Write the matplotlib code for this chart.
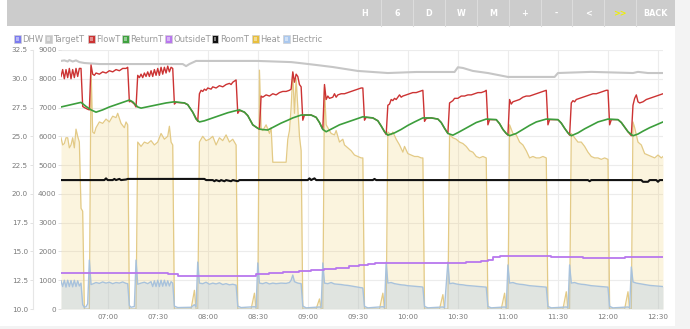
import matplotlib
matplotlib.use("Agg")
import matplotlib.pyplot as plt
import matplotlib.dates as mdates
import numpy as np
import pandas as pd
from matplotlib.patches import Rectangle
from matplotlib.lines import Line2D

plt.rcParams['font.family'] = ['DejaVu Sans']

DAY = "2024-01-01 "

# ---------------- data ----------------
legend_labels = ["DHW", "TargetT", "FlowT", "ReturnT", "OutsideT", "RoomT", "Heat", "Electric"]
legend_colors = ["#7b7bf0", "#c8c8c8", "#cc3333", "#3fa23f", "#b877ee", "#111111", "#e8bf3c", "#aac8ee"]

buttons = ["H", "6", "D", "W", "M", "+", "-", "<", ">>", "BACK"]

temp_ticks = [10.0, 12.5, 15.0, 17.5, 20.0, 22.5, 25.0, 27.5, 30.0, 32.5]
power_ticks = [0, 1000, 2000, 3000, 4000, 5000, 6000, 7000, 8000, 9000]

heat_time = [
    "06:32", "06:33", "06:34", "06:35", "06:36", "06:37", "06:38", "06:39", "06:40", "06:41", "06:42", "06:43", "06:44", "06:45", "06:46",
    "06:49", "06:50", "06:51", "06:52", "06:53", "06:55", "06:57", "06:59", "07:01", "07:03", "07:05", "07:06", "07:08", "07:10", "07:11", "07:12", "07:13",
    "07:17", "07:18", "07:20", "07:22", "07:24", "07:26", "07:28", "07:30", "07:32", "07:34", "07:36", "07:37", "07:38", "07:39", "07:40",
    "07:50", "07:52", "07:53", "07:54", "07:55", "07:57", "07:59", "08:01", "08:03", "08:05", "08:07", "08:09", "08:11", "08:13", "08:15", "08:17", "08:18",
    "08:26", "08:28", "08:29", "08:30", "08:31", "08:32", "08:33", "08:35", "08:37", "08:38", "08:39", "08:41", "08:44", "08:47", "08:48", "08:49", "08:50",
    "08:51", "08:52", "08:53", "08:54", "08:55", "08:56", "08:57",
    "09:05", "09:07", "09:08", "09:09", "09:10", "09:11", "09:12", "09:14", "09:16", "09:17", "09:19", "09:21", "09:22", "09:24", "09:26", "09:28", "09:30",
    "09:32", "09:33", "09:34",
    "09:43", "09:45", "09:46", "09:47", "09:48", "09:50", "09:51", "09:53", "09:55", "09:57", "09:58", "10:00", "10:02", "10:04", "10:06", "10:08", "10:09", "10:10",
    "10:19", "10:21", "10:22", "10:24", "10:25", "10:27", "10:29", "10:31", "10:33", "10:35", "10:37", "10:39", "10:41", "10:43", "10:45", "10:47", "10:48",
    "10:56", "10:58", "10:59", "11:00", "11:01", "11:03", "11:05", "11:07", "11:09", "11:11", "11:13", "11:15", "11:17", "11:19", "11:21", "11:23", "11:24",
    "11:33", "11:35", "11:36", "11:37", "11:38", "11:40", "11:42", "11:44", "11:46", "11:48", "11:50", "11:52", "11:54", "11:56", "11:58", "12:00", "12:01",
    "12:10", "12:12", "12:13", "12:14", "12:15", "12:16", "12:18", "12:20", "12:22", "12:24", "12:26", "12:28", "12:30", "12:32", "12:33",
]
heat_w = [
    5950, 5700, 5750, 5950, 5950, 5600, 5700, 5950, 5600, 6250, 6000, 5800, 3500, 3400, 0,
    0, 8400, 6150, 6100, 6300, 6500, 6450, 6600, 6500, 6700, 6650, 6800, 6450, 6300, 6500, 6400, 0,
    0, 5800, 5650, 5800, 5750, 5850, 5700, 5800, 6100, 5900, 6000, 6350, 5800, 5700, 0,
    0, 650, 0, 0, 5800, 6000, 5850, 5900, 6000, 5700, 5950, 5850, 6050, 5800, 5900, 5700, 0,
    0, 550, 0, 0, 8300, 6300, 6200, 6400, 6100, 6300, 5100, 5100, 5100, 5100, 5900, 6200, 7000,
    8200, 6800, 8000, 7000, 6000, 5500, 0,
    0, 350, 0, 0, 7700, 6400, 6300, 6100, 6050, 6200, 5800, 5900, 5700, 5600, 5500, 5350, 5300,
    5250, 5250, 0,
    0, 550, 0, 0, 6150, 6050, 6150, 5900, 5700, 5450, 5650, 5400, 5350, 5300, 5300, 5250, 5250, 0,
    0, 500, 0, 0, 6050, 5950, 5900, 5800, 5750, 5650, 5500, 5450, 5300, 5250, 5300, 5250, 0,
    0, 550, 0, 0, 6400, 6100, 6050, 5800, 5700, 5500, 5250, 5300, 5250, 5250, 5300, 5250, 0,
    0, 600, 0, 0, 6100, 5950, 5800, 5800, 5650, 5450, 5300, 5250, 5250, 5200, 5250, 5200, 0,
    0, 600, 0, 0, 6500, 6300, 5800, 5700, 5400, 5350, 5300, 5250, 5350, 5250, 5300,
]

elec_time = [
    "06:32", "06:33", "06:34", "06:35", "06:36", "06:37", "06:38", "06:39", "06:40", "06:41", "06:42", "06:43", "06:44", "06:45",
    "06:46", "06:47", "06:48", "06:49",
    "06:50", "06:51", "06:53", "06:55", "06:57", "06:59", "07:01", "07:03", "07:05", "07:07", "07:09", "07:11", "07:12", "07:13",
    "07:14", "07:16", "07:17",
    "07:18", "07:20", "07:22", "07:24", "07:26", "07:27", "07:28", "07:29", "07:30", "07:31", "07:32", "07:33", "07:34", "07:35", "07:36", "07:37", "07:38", "07:39", "07:40",
    "07:42", "07:50", "07:52", "07:53", "07:54",
    "07:55", "07:57", "07:59", "08:01", "08:03", "08:05", "08:07", "08:09", "08:11", "08:13", "08:15", "08:17", "08:18",
    "08:20", "08:28", "08:29", "08:30",
    "08:31", "08:33", "08:35", "08:37", "08:39", "08:41", "08:44", "08:47", "08:49", "08:50", "08:51", "08:52", "08:54", "08:56", "08:57",
    "08:59", "09:07", "09:08", "09:09",
    "09:10", "09:12", "09:14", "09:16", "09:18", "09:20", "09:22", "09:24", "09:26", "09:28", "09:30", "09:32", "09:33", "09:34",
    "09:36", "09:45", "09:46", "09:47",
    "09:48", "09:50", "09:52", "09:54", "09:56", "09:58", "10:00", "10:02", "10:04", "10:06", "10:08", "10:09", "10:10",
    "10:12", "10:21", "10:22", "10:24",
    "10:25", "10:27", "10:29", "10:31", "10:33", "10:35", "10:37", "10:39", "10:41", "10:43", "10:45", "10:47", "10:48",
    "10:50", "10:58", "10:59", "11:00",
    "11:01", "11:03", "11:05", "11:07", "11:09", "11:11", "11:13", "11:15", "11:17", "11:19", "11:21", "11:23", "11:24",
    "11:26", "11:35", "11:36", "11:37",
    "11:38", "11:40", "11:42", "11:44", "11:46", "11:48", "11:50", "11:52", "11:54", "11:56", "11:58", "12:00", "12:01",
    "12:03", "12:12", "12:13", "12:14",
    "12:15", "12:17", "12:19", "12:21", "12:23", "12:25", "12:27", "12:29", "12:31", "12:33",
]
elec_w = [
    980, 780, 1000, 760, 1000, 780, 990, 770, 1000, 780, 980, 800, 900, 150,
    60, 80, 180, 1700,
    850, 870, 920, 890, 940, 900, 930, 880, 920, 900, 940, 890, 880, 120,
    60, 90, 1700,
    860, 900, 930, 880, 950, 780, 980, 780, 1000, 780, 1000, 790, 1000, 800, 980, 800, 950, 900, 100,
    50, 60, 150, 80, 1630,
    900, 880, 930, 860, 900, 870, 910, 850, 880, 840, 860, 830, 100,
    50, 80, 60, 1600,
    900, 880, 920, 870, 900, 880, 900, 890, 920, 1000, 1180, 950, 900, 880, 100,
    40, 70, 60, 1600,
    900, 880, 920, 870, 860, 850, 830, 820, 800, 780, 760, 740, 730, 90,
    40, 80, 60, 1630,
    900, 920, 880, 860, 840, 830, 810, 800, 790, 780, 770, 760, 90,
    40, 70, 50, 1630,
    880, 900, 870, 850, 840, 820, 810, 800, 790, 780, 770, 760, 90,
    40, 70, 50, 1530,
    900, 920, 880, 860, 850, 830, 810, 800, 790, 780, 770, 760, 90,
    40, 70, 50, 1530,
    900, 920, 880, 860, 850, 830, 810, 800, 790, 780, 770, 760, 90,
    40, 70, 50, 1460,
    940, 900, 880, 860, 840, 820, 810, 800, 790, 780,
]

flow_time = [
    "06:32", "06:33", "06:34", "06:35", "06:36", "06:37", "06:38", "06:39", "06:40", "06:41", "06:42", "06:43", "06:44", "06:45", "06:46", "06:48", "06:49",
    "06:50", "06:51", "06:52", "06:53", "06:55", "06:57", "06:59", "07:01", "07:03", "07:05", "07:07", "07:09", "07:11", "07:12", "07:13", "07:14", "07:16", "07:17",
    "07:18", "07:19", "07:20", "07:21", "07:22", "07:23", "07:24", "07:25", "07:26", "07:27", "07:28", "07:29", "07:30", "07:31", "07:32", "07:33", "07:34", "07:35",
    "07:36", "07:37", "07:38", "07:39", "07:40", "07:41", "07:46", "07:48", "07:51", "07:54",
    "07:55", "07:56", "07:57", "07:58", "07:59", "08:00", "08:02", "08:03", "08:05", "08:07", "08:09", "08:11", "08:13", "08:14", "08:15", "08:16", "08:17", "08:18",
    "08:19", "08:22", "08:24", "08:27", "08:30", "08:31",
    "08:32", "08:33", "08:35", "08:37", "08:39", "08:41", "08:43", "08:45", "08:47", "08:49", "08:50", "08:51", "08:52", "08:53", "08:54", "08:55", "08:56", "08:57",
    "08:58", "09:02", "09:05", "09:07", "09:09",
    "09:10", "09:11", "09:12", "09:13", "09:15", "09:16", "09:17", "09:18", "09:20", "09:22", "09:24", "09:26", "09:28", "09:30", "09:32", "09:33", "09:34",
    "09:35", "09:39", "09:42", "09:44", "09:46", "09:47",
    "09:48", "09:49", "09:50", "09:51", "09:52", "09:53", "09:55", "09:56", "09:57", "09:59", "10:01", "10:03", "10:05", "10:07", "10:09", "10:10",
    "10:11", "10:14", "10:18", "10:20", "10:22", "10:24",
    "10:25", "10:26", "10:27", "10:28", "10:30", "10:32", "10:34", "10:36", "10:38", "10:40", "10:42", "10:44", "10:46", "10:47", "10:48",
    "10:49", "10:53", "10:55", "10:57", "10:59", "11:00",
    "11:01", "11:02", "11:03", "11:05", "11:07", "11:09", "11:11", "11:13", "11:15", "11:17", "11:19", "11:21", "11:23", "11:24",
    "11:25", "11:30", "11:32", "11:34", "11:36", "11:37",
    "11:38", "11:39", "11:40", "11:41", "11:43", "11:45", "11:47", "11:49", "11:51", "11:53", "11:55", "11:57", "11:59", "12:00", "12:01",
    "12:02", "12:06", "12:08", "12:10", "12:12", "12:14",
    "12:15", "12:16", "12:17", "12:18", "12:19", "12:21", "12:23", "12:25", "12:27", "12:29", "12:31", "12:33",
]
flow_c = [
    30.2, 30.8, 30.0, 30.8, 30.1, 30.9, 30.0, 30.8, 30.1, 30.9, 30.2, 30.9, 30.9, 27.6, 27.5, 27.35, 27.3,
    31.2, 30.4, 30.3, 30.5, 30.4, 30.6, 30.5, 30.7, 30.6, 30.8, 30.7, 30.9, 30.9, 31.0, 28.0, 28.05, 27.8, 27.55,
    30.3, 30.1, 30.4, 30.1, 30.5, 30.2, 30.6, 30.2, 30.7, 30.2, 30.8, 30.3, 30.9, 30.3, 31.0, 30.4, 31.0, 30.5,
    31.1, 30.6, 31.0, 30.9, 27.8, 27.95, 27.9, 27.75, 27.1, 26.3,
    28.7, 29.0, 28.9, 29.1, 29.0, 29.2, 29.1, 29.3, 29.2, 29.4, 29.3, 29.5, 29.6, 29.5, 29.7, 29.8, 29.9, 27.0,
    27.25, 27.1, 26.8, 26.0, 25.7, 25.6,
    28.5, 28.4, 28.6, 28.5, 28.7, 28.6, 28.8, 28.9, 28.9, 29.0, 29.1, 30.6, 29.7, 30.4, 30.2, 29.5, 29.3, 26.4,
    26.85, 26.85, 26.65, 26.2, 25.6,
    29.5, 28.2, 28.5, 28.3, 28.4, 28.7, 28.4, 28.6, 28.7, 28.7, 28.8, 28.9, 29.0, 29.1, 29.2, 29.2, 26.4,
    26.65, 26.6, 26.35, 25.9, 25.4, 25.15,
    27.7, 27.8, 28.2, 28.1, 28.3, 28.2, 28.6, 28.4, 28.5, 28.6, 28.7, 28.8, 28.8, 28.9, 29.0, 26.3,
    26.55, 26.6, 26.5, 26.2, 25.7, 25.25,
    27.9, 28.0, 28.1, 28.3, 28.3, 28.5, 28.5, 28.6, 28.6, 28.7, 28.8, 28.8, 28.9, 29.0, 26.0,
    26.45, 26.45, 26.1, 25.6, 25.25, 25.1,
    28.2, 27.8, 28.0, 28.1, 28.2, 28.4, 28.5, 28.5, 28.6, 28.7, 28.8, 28.9, 29.0, 26.0,
    26.45, 26.45, 26.15, 25.7, 25.3, 25.1,
    27.9, 28.1, 28.0, 28.2, 28.3, 28.4, 28.5, 28.6, 28.7, 28.7, 28.8, 28.9, 29.0, 29.0, 26.0,
    26.45, 26.45, 26.2, 25.8, 25.4, 25.05,
    27.7, 28.3, 28.6, 28.0, 27.9, 28.0, 28.2, 28.3, 28.4, 28.5, 28.6, 28.7,
]

return_time = [
    "06:32", "06:38", "06:44", "06:47", "06:50", "06:53", "06:57", "07:01", "07:06", "07:10", "07:13", "07:15", "07:18", "07:20", "07:25", "07:30",
    "07:35", "07:40", "07:46", "07:48", "07:51", "07:53", "07:55", "07:58", "08:03", "08:08", "08:12", "08:16", "08:19", "08:22", "08:24", "08:27",
    "08:30", "08:32", "08:36", "08:40", "08:44", "08:48", "08:51", "08:56", "09:02", "09:05", "09:07", "09:09", "09:11", "09:15", "09:19", "09:24",
    "09:28", "09:33", "09:39", "09:42", "09:44", "09:46", "09:48", "09:52", "09:56", "10:00", "10:04", "10:09", "10:14", "10:18", "10:20", "10:22",
    "10:24", "10:27", "10:31", "10:36", "10:41", "10:47", "10:53", "10:55", "10:57", "10:59", "11:01", "11:05", "11:09", "11:13", "11:17", "11:23",
    "11:30", "11:32", "11:34", "11:36", "11:38", "11:42", "11:46", "11:50", "11:54", "12:00", "12:06", "12:08", "12:10", "12:12", "12:15", "12:18",
    "12:21", "12:25", "12:29", "12:33",
]
return_c = [
    27.55, 27.75, 27.95, 27.6, 27.3, 27.1, 27.3, 27.55, 27.8, 28.0, 28.15, 28.0, 27.55, 27.45, 27.6, 27.75,
    27.9, 28.0, 27.9, 27.75, 27.1, 26.5, 26.25, 26.35, 26.6, 26.85, 27.05, 27.2, 27.3, 27.1, 26.8, 26.0,
    25.7, 25.6, 25.55, 25.85, 26.15, 26.4, 26.6, 26.85, 26.85, 26.65, 26.2, 25.6, 25.4, 25.7, 26.0, 26.25,
    26.45, 26.7, 26.6, 26.35, 25.9, 25.4, 25.1, 25.3, 25.6, 25.95, 26.25, 26.6, 26.6, 26.5, 26.2, 25.7,
    25.25, 25.1, 25.4, 25.8, 26.2, 26.5, 26.45, 26.1, 25.6, 25.25, 25.05, 25.25, 25.6, 25.95, 26.25, 26.5,
    26.45, 26.15, 25.7, 25.3, 25.05, 25.3, 25.65, 25.95, 26.25, 26.5, 26.45, 26.2, 25.8, 25.4, 25.05, 25.2,
    25.45, 25.75, 26.0, 26.25,
]

target_time = [
    "06:32", "06:34", "06:36", "06:37", "06:39", "06:41", "06:43", "06:46", "06:55", "07:45", "07:47", "07:49", "07:53", "08:30", "08:50", "08:55",
    "09:05", "09:15", "09:30", "09:48", "10:05", "10:28", "10:30", "10:33", "10:39", "10:48", "10:54", "11:00", "11:28", "11:30", "11:50",
    "12:15", "12:18", "12:24", "12:33",
]
target_c = [
    31.55, 31.6, 31.5, 31.63, 31.5, 31.6, 31.45, 31.37, 31.28, 31.28, 31.1, 31.28, 31.55, 31.55, 31.45, 31.37,
    31.2, 31.02, 30.68, 30.5, 30.59, 30.59, 31.0, 30.94, 30.68, 30.5, 30.33, 30.16, 30.16, 30.5, 30.6,
    30.5, 30.6, 30.5, 30.5,
]

room_time = [
    "06:32", "06:58", "06:59", "07:00", "07:03", "07:04", "07:05", "07:07", "07:08", "07:11", "07:12", "07:58", "07:59", "08:03", "08:04", "08:05",
    "08:07", "08:08", "08:10", "08:11", "08:14", "08:15", "08:18", "08:19", "09:00", "09:01", "09:02", "09:04", "09:05", "09:39", "09:40", "09:41",
    "11:48", "11:49", "11:50", "12:20", "12:21", "12:24", "12:25", "12:29", "12:30", "12:31", "12:33",
]
room_c = [
    21.2, 21.2, 21.35, 21.2, 21.2, 21.3, 21.2, 21.3, 21.2, 21.25, 21.3, 21.3, 21.2, 21.2, 21.1, 21.2,
    21.1, 21.2, 21.1, 21.2, 21.1, 21.2, 21.1, 21.2, 21.2, 21.35, 21.2, 21.35, 21.2, 21.2, 21.3, 21.2,
    21.2, 21.1, 21.2, 21.2, 21.05, 21.05, 21.2, 21.2, 21.05, 21.2, 21.2,
]

outside_time = [
    "06:32", "07:36", "07:42", "08:29", "08:37", "08:45", "08:55", "09:02", "09:10", "09:17", "09:25", "09:31", "09:36", "09:40",
    "10:35", "10:44", "10:48", "10:51", "10:55", "11:26", "11:45", "12:10", "12:33",
]
outside_c = [
    13.1, 13.0, 12.9, 13.0, 13.1, 13.2, 13.3, 13.4, 13.5, 13.6, 13.7, 13.8, 13.9, 14.0,
    14.1, 14.2, 14.3, 14.5, 14.6, 14.5, 14.4, 14.5, 14.5,
]


def ts(lst):
    return pd.to_datetime([DAY + s for s in lst])


# ---------------- figure ----------------
W, H = 690, 329
fig = plt.figure(figsize=(W / 100, H / 100), dpi=100)
fig.patch.set_facecolor("white")


def fx(px):
    return px / W


def fy(py):
    return 1 - py / H


# page frame: toolbar, right gutter
fig.patches.append(Rectangle((fx(675), 0), fx(15), 1, transform=fig.transFigure,
                             facecolor="#f3f3f3", edgecolor="none", zorder=0))
fig.patches.append(Rectangle((0, 0), fx(675), 3 / H, transform=fig.transFigure,
                             facecolor="#f3f3f3", edgecolor="none", zorder=0))
fig.patches.append(Rectangle((fx(7), fy(26)), fx(668), 26 / H, transform=fig.transFigure,
                             facecolor="#cccccc", edgecolor="none", zorder=1))

btn_edges = [349, 381, 413, 445, 477, 509, 541, 572, 604, 636, 675]
for i, label in enumerate(buttons):
    x0, x1 = btn_edges[i], btn_edges[i + 1]
    if i > 0:
        fig.lines.append(Line2D([fx(x0), fx(x0)], [fy(26), fy(0)], transform=fig.transFigure,
                                color="#dcdcdc", lw=0.8, zorder=2))
    fig.text(fx((x0 + x1) / 2), fy(13.5), label, ha="center", va="center",
             fontsize=5.8, fontweight="bold",
             color="#f0f000" if label == ">>" else "white")

# legend row
leg_sq = [17, 48, 91, 125, 168, 215, 255, 286]
for sx, lab, col in zip(leg_sq, legend_labels, legend_colors):
    fig.patches.append(Rectangle((fx(sx - 3.5), fy(42.5)), 7 / W, 7 / H, transform=fig.transFigure,
                                 facecolor=col, edgecolor="#d0d0d0", lw=0.5, zorder=3))
    fig.patches.append(Rectangle((fx(sx - 1.5), fy(40.5)), 3 / W, 3 / H, transform=fig.transFigure,
                                 facecolor="white", alpha=0.45, edgecolor="none", zorder=4))
    fig.text(fx(sx + 5), fy(39), lab, ha="left", va="center", fontsize=6, color="#9a9a9a")

# ---------------- axes ----------------
ax_p = fig.add_axes([fx(61), 20 / H, 602 / W, 259 / H])
ax_t = ax_p.twinx()

t0 = ts(["06:32"])[0]
t1 = ts(["12:33"])[0]
ax_p.set_xlim(t0, t1)
ax_p.set_ylim(0, 9000)
ax_t.set_ylim(10, 32.5)

ax_p.set_yticks(power_ticks)
ax_p.set_yticklabels([str(v) for v in power_ticks])
ax_t.set_yticks(temp_ticks)
ax_t.set_yticklabels(["%.1f" % v for v in temp_ticks])

ax_p.xaxis.set_major_locator(mdates.MinuteLocator(byminute=[0, 30]))
ax_p.xaxis.set_major_formatter(mdates.DateFormatter("%H:%M"))

for sp in ax_p.spines.values():
    sp.set_visible(False)
for name, sp in ax_t.spines.items():
    sp.set_visible(name == "left")
ax_t.spines["left"].set_position(("outward", 20.2))
ax_t.spines["left"].set_color("#e6e6e6")
ax_t.spines["left"].set_linewidth(0.8)

ax_t.yaxis.tick_left()
ax_t.yaxis.set_label_position("left")
ax_t.tick_params(axis="y", length=2.2, width=0.6, color="#dddddd", pad=1.5,
                 labelsize=5.2, labelcolor="#7a7a7a")
ax_p.tick_params(axis="y", length=2.2, width=0.6, color="#dddddd", pad=1.0,
                 labelsize=5.2, labelcolor="#7a7a7a")
ax_p.tick_params(axis="x", length=0, pad=3.5, labelsize=5.2, labelcolor="#7a7a7a")
ax_t.tick_params(axis="x", length=0, labelbottom=False)

ax_p.grid(True, color="#ececec", lw=0.8)
ax_p.set_axisbelow(True)

# power series (filled)
ht = ts(heat_time)
et = ts(elec_time)
ax_p.fill_between(ht, heat_w, 0, color="#edc240", alpha=0.17, lw=0, zorder=2)
ax_p.plot(ht, heat_w, color="#e3ca86", lw=0.9, zorder=3)
ax_p.fill_between(et, elec_w, 0, color="#a9c4e6", alpha=0.33, lw=0, zorder=4)
ax_p.plot(et, elec_w, color="#a8c2dc", lw=1.0, zorder=5)

# temperature series
ax_t.plot(ts(target_time), target_c, color="#c6c6c6", lw=1.5, zorder=2)
ax_t.plot(ts(flow_time), flow_c, color="#cc3333", lw=1.0, zorder=3)
ax_t.plot(ts(return_time), return_c, color="#3c9e3c", lw=1.2, zorder=4)
ax_t.plot(ts(outside_time), outside_c, color="#b877ee", lw=1.3, drawstyle="steps-post", zorder=5)
ax_t.plot(ts(room_time), room_c, color="#111111", lw=1.5, zorder=6)

ax_t.set_xlim(t0, t1)

fig.savefig("out.png", dpi=100)
